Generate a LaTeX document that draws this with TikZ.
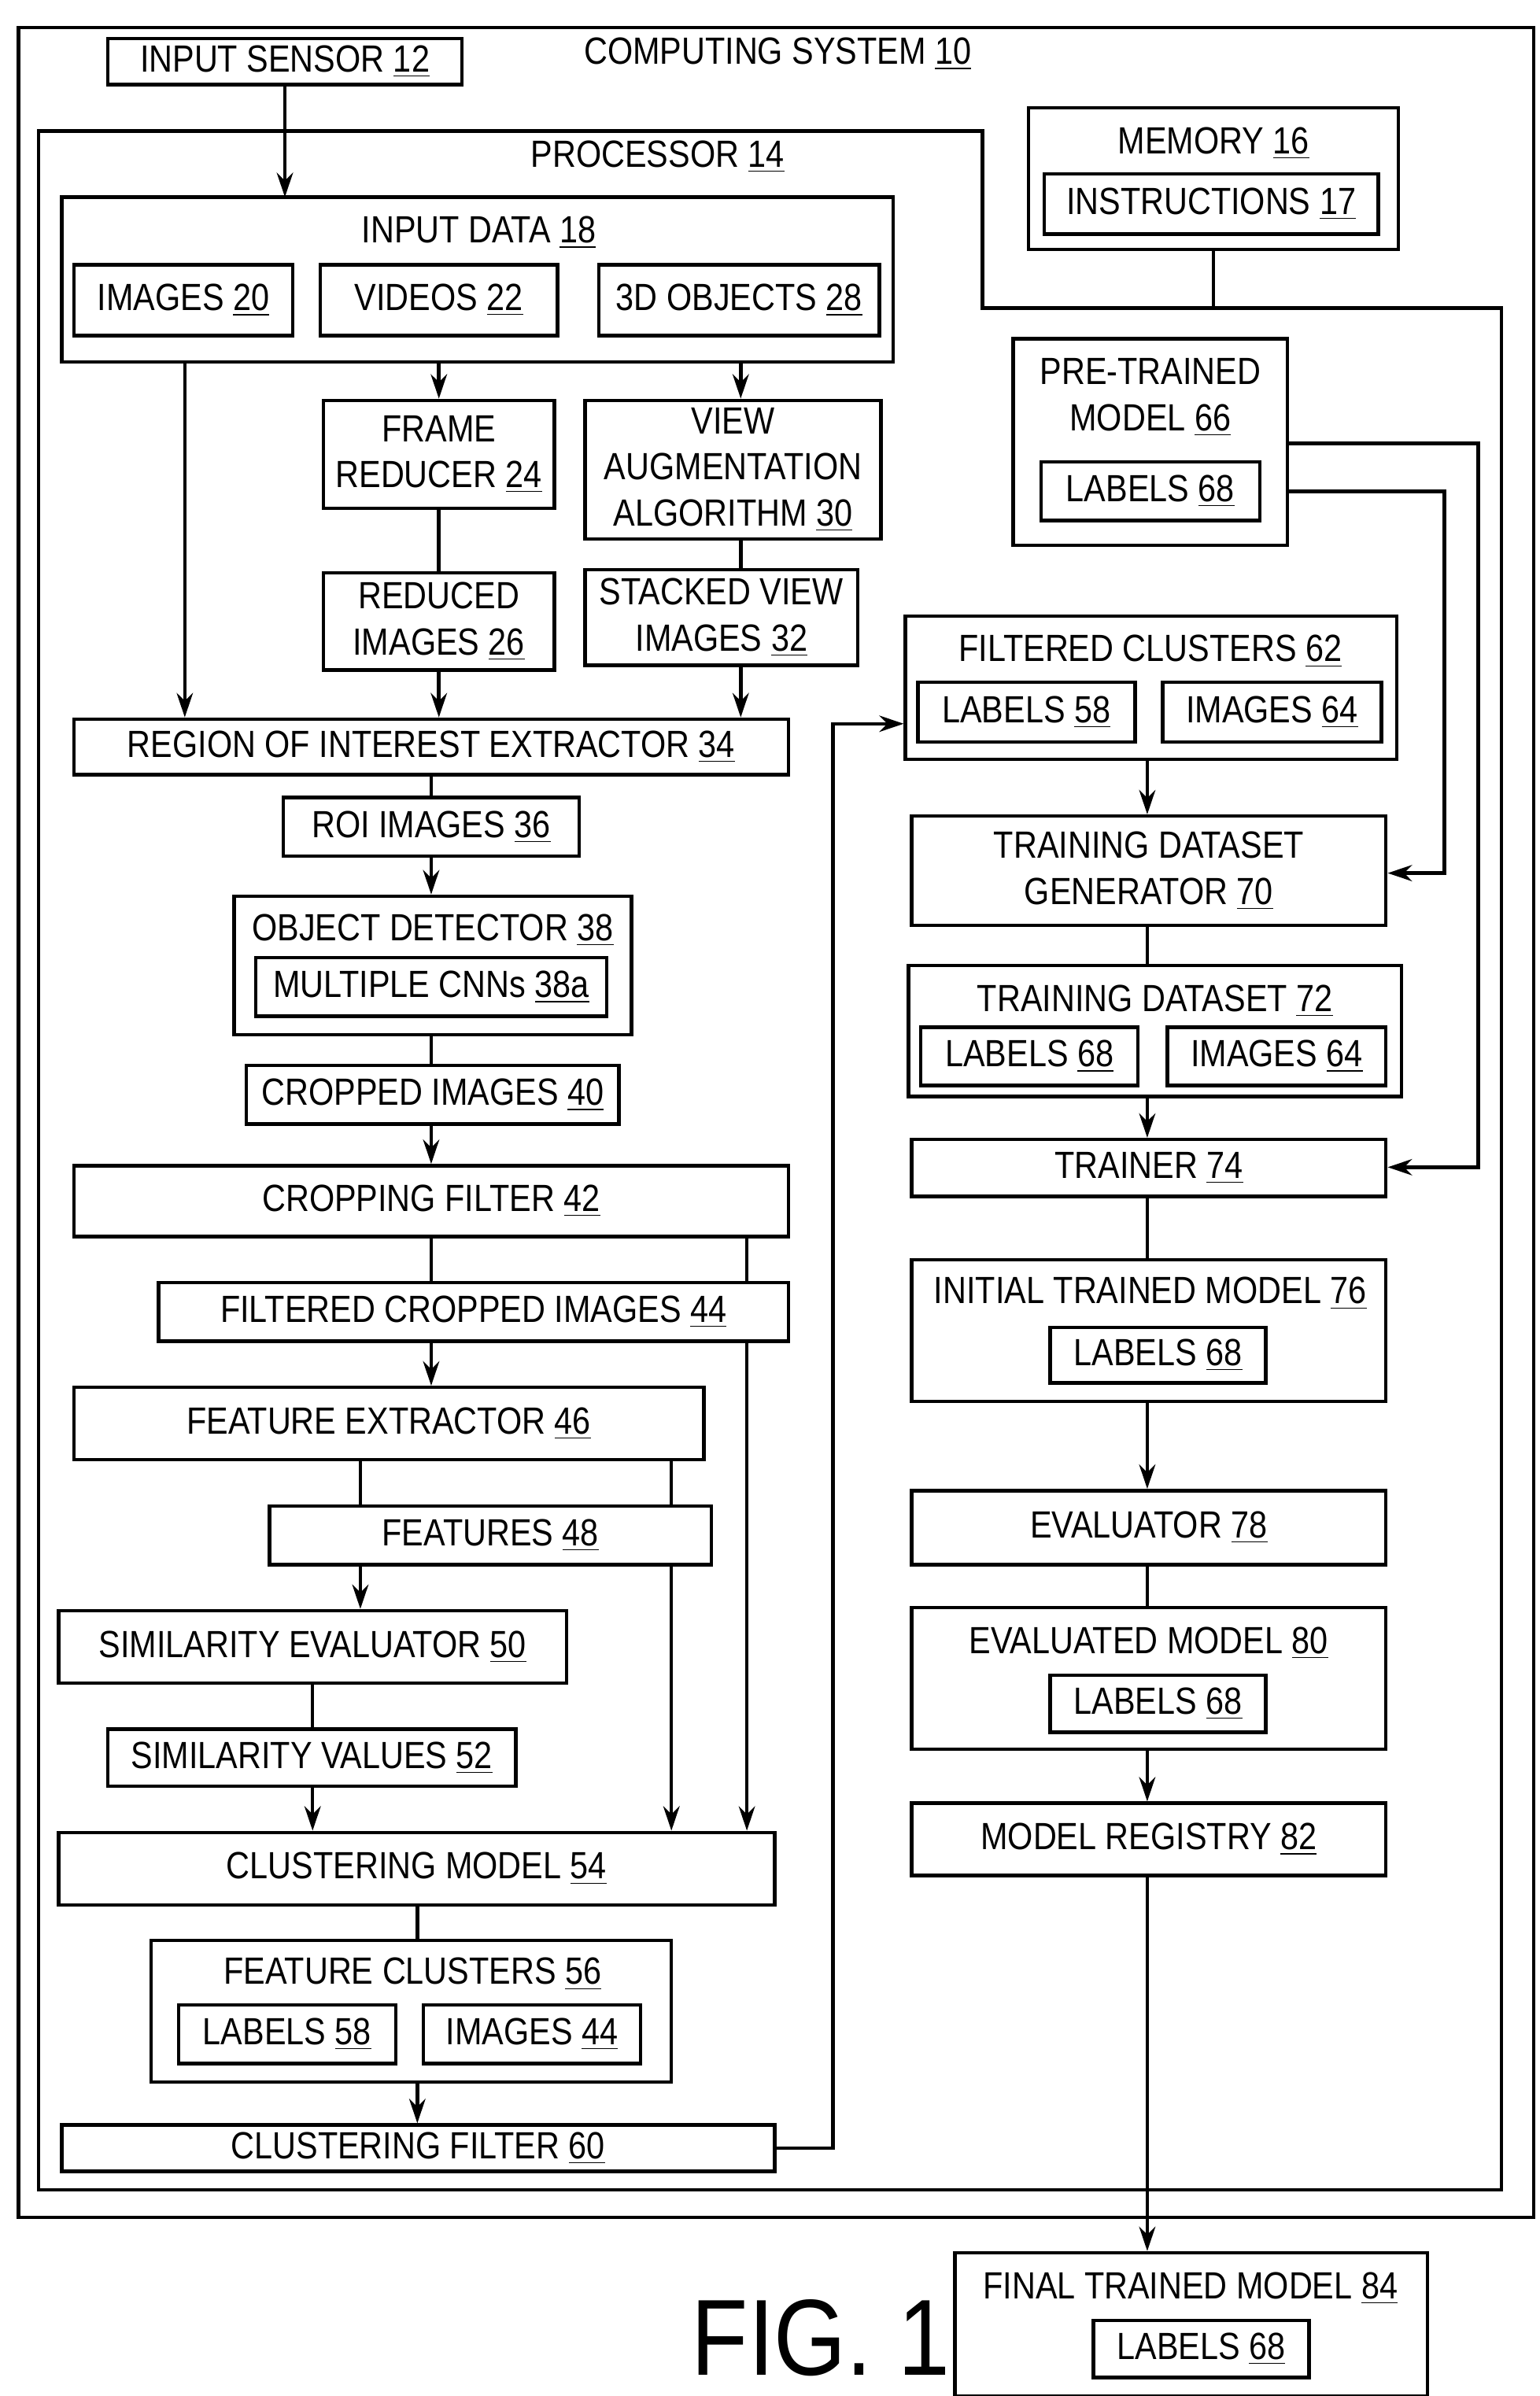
\documentclass[tikz,border=0pt]{standalone}
\usepackage{fontspec}
\setmainfont[FakeStretch=0.86]{Liberation Sans}
\usetikzlibrary{arrows.meta,backgrounds}
\newcommand{\n}[1]{\underline{#1}}
\newcommand{\bx}[6]{
	\node[box, minimum width={(#4-#2)*0.02cm}, minimum height={(#5-#3)*0.02cm}] (#1) at ({(#2+#4)/2},{(#3+#5)/2}) {#6};
}
\tikzset{box/.style = {draw, fill=white, line width=1.3pt, inner sep=0pt, align=center}}
\tikzset{lbl/.style = {inner sep=0pt, align=center}}
\tikzset{arr/.style = {line width=1.3pt, -{Stealth[length=9pt,width=6pt]}}}
\tikzset{con/.style = {line width=1.3pt}}

\begin{document}
\begin{tikzpicture}[x=0.02cm, y=-0.02cm, font=\fontsize{14}{17}\selectfont]
	\useasboundingbox (0,0) rectangle (1000,1556);

	% system and processor
	\draw[con] (12,18) rectangle (996,1440);
	\node[lbl] (sysl) at (505,35) {COMPUTING SYSTEM \n{10}};
	\draw[con] (25,85) -- (638,85) -- (638,200) -- (975,200) -- (975,1422) -- (25,1422) -- cycle;
	\node[lbl] (procl) at (427,102) {PROCESSOR \n{14}};
	\bx{sensor}{70}{25}{300}{55}{INPUT SENSOR \n{12}}

	% memory
	\bx{mem}{668}{70}{908}{162}{}
	\node[lbl] (meml) at (788,93) {MEMORY \n{16}};
	\bx{instr}{678}{113}{895}{152}{INSTRUCTIONS \n{17}}

	% left column
	\bx{indata}{40}{128}{580}{235}{}
	\node[lbl] (indatal) at (311,151) {INPUT DATA \n{18}};
	\bx{img20}{48}{172}{190}{218}{IMAGES \n{20}}
	\bx{vid}{208}{172}{362}{218}{VIDEOS \n{22}}
	\bx{obj3d}{389}{172}{571}{218}{3D OBJECTS \n{28}}
	\bx{frame}{210}{260}{360}{330}{FRAME\\REDUCER \n{24}}
	\bx{viewaug}{380}{260}{572}{350}{VIEW\\AUGMENTATION\\ALGORITHM \n{30}}
	\bx{reduced}{210}{372}{360}{435}{REDUCED\\IMAGES \n{26}}
	\bx{stacked}{380}{370}{557}{432}{STACKED VIEW\\IMAGES \n{32}}
	\bx{roi}{48}{467}{512}{503}{REGION OF INTEREST EXTRACTOR \n{34}}
	\bx{roiimg}{184}{518}{376}{556}{ROI IMAGES \n{36}}
	\bx{detect}{152}{582}{410}{672}{}
	\node[lbl] (detectl) at (281,604) {OBJECT DETECTOR \n{38}};
	\bx{cnns}{166}{622}{394}{660}{MULTIPLE CNNs \n{38a}}
	\bx{cropped}{160}{692}{402}{730}{CROPPED IMAGES \n{40}}
	\bx{cropfilt}{48}{757}{512}{803}{CROPPING FILTER \n{42}}
	\bx{filtcrop}{103}{833}{512}{871}{FILTERED CROPPED IMAGES \n{44}}
	\bx{featext}{48}{901}{457}{948}{FEATURE EXTRACTOR \n{46}}
	\bx{feat}{175}{978}{462}{1016}{FEATURES \n{48}}
	\bx{simeval}{38}{1046}{368}{1093}{SIMILARITY EVALUATOR \n{50}}
	\bx{simval}{70}{1123}{335}{1160}{SIMILARITY VALUES \n{52}}
	\bx{clmodel}{38}{1190}{503}{1237}{CLUSTERING MODEL \n{54}}
	\bx{fclust}{98}{1260}{436}{1352}{}
	\node[lbl] (fclustl) at (268,1282) {FEATURE CLUSTERS \n{56}};
	\bx{fcLab}{116}{1302}{257}{1340}{LABELS \n{58}}
	\bx{fcImg}{275}{1302}{416}{1340}{IMAGES \n{44}}
	\bx{clfilt}{40}{1380}{503}{1410}{CLUSTERING FILTER \n{60}}

	% right column
	\bx{pre}{658}{220}{836}{354}{}
	\node[lbl] (prel) at (747,258) {PRE-TRAINED\\MODEL \n{66}};
	\bx{preLab}{676}{300}{818}{338}{LABELS \n{68}}
	\bx{filtcl}{588}{400}{907}{493}{}
	\node[lbl] (filtcll) at (747,423) {FILTERED CLUSTERS \n{62}};
	\bx{filtLab}{596}{443}{737}{482}{LABELS \n{58}}
	\bx{filtImg}{755}{443}{897}{482}{IMAGES \n{64}}
	\bx{tdgen}{592}{530}{900}{601}{TRAINING DATASET\\GENERATOR \n{70}}
	\bx{tds}{590}{627}{910}{712}{}
	\node[lbl] (tdsl) at (750,650) {TRAINING DATASET \n{72}};
	\bx{tdsLab}{598}{667}{739}{705}{LABELS \n{68}}
	\bx{tdsImg}{758}{667}{900}{705}{IMAGES \n{64}}
	\bx{trainer}{592}{740}{900}{777}{TRAINER \n{74}}
	\bx{initm}{592}{818}{900}{910}{}
	\node[lbl] (initml) at (747,840) {INITIAL TRAINED MODEL \n{76}};
	\bx{initLab}{682}{862}{822}{898}{LABELS \n{68}}
	\bx{evaltr}{592}{968}{900}{1016}{EVALUATOR \n{78}}
	\bx{evalm}{592}{1044}{900}{1136}{}
	\node[lbl] (evalml) at (746,1067) {EVALUATED MODEL \n{80}};
	\bx{evalLab}{682}{1088}{822}{1125}{LABELS \n{68}}
	\bx{registry}{592}{1171}{900}{1218}{MODEL REGISTRY \n{82}}
	\bx{final}{620}{1463}{927}{1556}{}
	\node[lbl] (finall) at (773,1486) {FINAL TRAINED MODEL \n{84}};
	\bx{finLab}{710}{1507}{850}{1544}{LABELS \n{68}}

	\node[lbl, font=\fontsize{40}{44}\selectfont] (fig) at (533,1518) {FIG. 1};

	% connectors
	\begin{scope}[on background layer]
		\draw[arr] (sensor.south -| 185,0) -- (185,128);
		\draw[con] (mem) -- (mem.south |- 0,200);
		\draw[arr] (vid) -- (frame);
		\draw[arr] (obj3d.south -| 481,0) -- (viewaug.north -| 481,0);
		\draw[arr] (img20.south -| 120,0) -- (roi.north -| 120,0);
		\draw[con] (frame) -- (reduced);
		\draw[arr] (reduced.south) -- (roi.north -| reduced.south);
		\draw[con] (viewaug.south -| 481,0) -- (stacked.north -| 481,0);
		\draw[arr] (stacked.south -| 481,0) -- (roi.north -| 481,0);
		\draw[con] (roi.south -| 280,0) -- (roiimg.north -| 280,0);
		\draw[arr] (roiimg.south -| 280,0) -- (detect.north -| 280,0);
		\draw[con] (detect.south -| 280,0) -- (cropped.north -| 280,0);
		\draw[arr] (cropped.south -| 280,0) -- (cropfilt.north -| 280,0);
		\draw[con] (cropfilt.south -| 280,0) -- (filtcrop.north -| 280,0);
		\draw[arr] (filtcrop.south -| 280,0) -- (featext.north -| 280,0);
		\draw[arr] (cropfilt.south -| 485,0) -- (clmodel.north -| 485,0);
		\draw[con] (featext.south -| 234,0) -- (feat.north -| 234,0);
		\draw[arr] (feat.south -| 234,0) -- (simeval.north -| 234,0);
		\draw[arr] (featext.south -| 436,0) -- (clmodel.north -| 436,0);
		\draw[con] (simeval.south -| 203,0) -- (simval.north -| 203,0);
		\draw[arr] (simval.south -| 203,0) -- (clmodel.north -| 203,0);
		\draw[con] (clmodel.south -| 271,0) -- (fclust.north -| 271,0);
		\draw[arr] (fclust.south -| 271,0) -- (clfilt.north -| 271,0);
		\draw[con] (fcLab) -- (fcImg);
		\draw[arr] (clfilt.east) -- (541,1395) -- (541,470) -- (filtcl.west |- 0,470);
		\draw[con] (filtLab) -- (filtImg);
		\draw[arr] (filtcl.south -| 745,0) -- (tdgen.north -| 745,0);
		\draw[arr] (preLab.east) -- (938,319) -- (938,567) -- (tdgen.east |- 0,567);
		\draw[arr] (pre.east |- 0,288) -- (960,288) -- (960,758) -- (trainer.east |- 0,758);
		\draw[con] (tdgen.south -| 745,0) -- (tds.north -| 745,0);
		\draw[con] (tdsLab) -- (tdsImg);
		\draw[arr] (tds.south -| 745,0) -- (trainer.north -| 745,0);
		\draw[con] (trainer.south -| 745,0) -- (initm.north -| 745,0);
		\draw[arr] (initm.south -| 745,0) -- (evaltr.north -| 745,0);
		\draw[con] (evaltr.south -| 745,0) -- (evalm.north -| 745,0);
		\draw[arr] (evalm.south -| 745,0) -- (registry.north -| 745,0);
		\draw[arr] (registry.south -| 745,0) -- (final.north -| 745,0);
	\end{scope}
\end{tikzpicture}
\end{document}
